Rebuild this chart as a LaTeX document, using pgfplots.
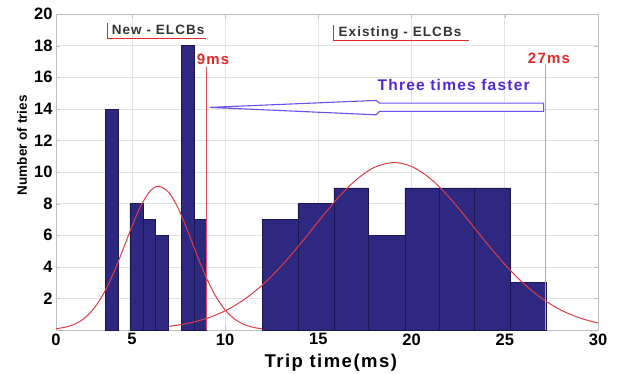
\documentclass[border=0pt]{standalone}
\usepackage{fontspec}
\setmainfont{Liberation Sans}
\newfontfamily\spaced[LetterSpace=8]{Liberation Sans}
\usepackage{pgfplots}
\pgfplotsset{compat=1.18}
\definecolor{navy}{RGB}{46,40,128}
\definecolor{navyedge}{RGB}{25,22,80}
\definecolor{curvered}{RGB}{225,60,70}
\definecolor{arrowblue}{RGB}{110,80,240}
\definecolor{textblue}{RGB}{80,40,220}
\definecolor{lav}{RGB}{165,155,255}
\definecolor{annred}{RGB}{230,40,40}
\begin{document}
\begin{tikzpicture}
\begin{axis}[at={(0,0)}, anchor=south west, scale only axis, width=542pt, height=316pt,
  xmin=0.93, xmax=30, ymin=0, ymax=20,
  xtick={0.93,5,10,15,20,25,30}, xticklabels={0,5,10,15,20,25,30},
  ytick={2,4,...,20},
  grid=major, grid style={gray!22, line width=0.6pt},
  axis line style={gray!50},
  tick style={gray!50},
  major tick length=4pt,
  tick label style={font=\fontsize{16.5}{19}\selectfont\bfseries},
  /pgf/number format/assume math mode=true,
  clip=false]
% New ELCB bars
\addplot[ybar interval, fill=navy, draw=navyedge, line width=0.5pt] coordinates {(3.55,14)(4.26,14)};
\addplot[ybar interval, fill=navy, draw=navyedge, line width=0.5pt] coordinates {(4.89,8)(5.60,7)(6.26,6)(6.96,6)};
\addplot[ybar interval, fill=navy, draw=navyedge, line width=0.5pt] coordinates {(7.66,18)(8.33,7)(9.01,7)};
% Existing ELCB bars
\addplot[ybar interval, fill=navy, draw=navyedge, line width=0.5pt] coordinates {(11.98,7)(13.90,8)(15.83,9)(17.69,6)(19.64,9)(21.50,9)(23.37,9)(25.30,3)(27.20,3)};
% fitted curves
\addplot[curvered, line width=1pt, smooth, no marks] coordinates {
(0.93,0.078)(1.5,0.198)(2,0.41)(2.5,0.79)(3,1.42)(3.5,2.34)(4,3.56)(4.5,5.02)(5,6.55)(5.5,7.90)(6,8.82)(6.45,9.1)(7,8.68)(7.5,7.66)(8,6.25)(8.5,4.72)(9,3.29)(9.5,2.13)(10,1.27)(10.5,0.70)(11,0.36)(11.5,0.17)(12,0.074)};
\addplot[curvered, line width=1pt, smooth, no marks] coordinates {
(7,0.23)(8,0.42)(9,0.73)(10,1.21)(11,1.91)(12,2.85)(13,4.03)(14,5.40)(15,6.87)(16,8.29)(17,9.48)(18,10.29)(19.05,10.6)(20,10.35)(21,9.59)(22,8.42)(23,7.01)(24,5.54)(25,4.15)(26,2.95)(27,1.99)(28,1.27)(29,0.77)(30,0.44)};
% vertical markers
\draw[annred!80, line width=0.6pt] (axis cs:9.01,0) -- (axis cs:9.01,16.64);
\draw[lav, line width=0.9pt] (axis cs:27.2,0) -- (axis cs:27.2,16.85);
% hollow arrow
\draw[arrowblue, line width=1.1pt, fill=white] (axis cs:9.175,14.09) -- (axis cs:18.1,14.53) -- (axis cs:18.28,14.36) -- (axis cs:27.08,14.36) -- (axis cs:27.08,13.84) -- (axis cs:18.28,13.84) -- (axis cs:18.1,13.62) -- cycle;
% texts
\node[font=\spaced\fontsize{15.5}{18}\selectfont\bfseries, text=textblue] at (axis cs:22.26,15.52) {Three times faster};
\node[font=\spaced\fontsize{15}{17}\selectfont\bfseries, text=annred] at (axis cs:9.35,17.16) {9ms};
\node[font=\spaced\fontsize{15}{17}\selectfont\bfseries, text=annred] at (axis cs:27.37,17.22) {27ms};
\draw[annred, line width=0.9pt] (axis cs:3.70,19.44) -- (axis cs:3.70,18.47) -- (axis cs:9.0,18.47);
\node[font=\spaced\fontsize{13.5}{15}\selectfont\bfseries, text=black!80] at (axis cs:6.41,18.98) {New - ELCBs};
\draw[annred, line width=0.9pt] (axis cs:15.83,19.29) -- (axis cs:15.83,18.35) -- (axis cs:23.1,18.35);
\node[font=\spaced\fontsize{13.5}{15}\selectfont\bfseries, text=black!80] at (axis cs:19.38,18.81) {Existing - ELCBs};
% axis labels
\node[font=\spaced\fontsize{18.5}{20}\selectfont\bfseries, anchor=base] at ([yshift=-37pt]rel axis cs:0.507,0) {Trip time(ms)};
\node[font=\fontsize{13.5}{15}\selectfont\bfseries, rotate=90, anchor=center] at ([xshift=-34pt]rel axis cs:0,0.585) {Number of tries};
\end{axis}
\pgfresetboundingbox
\useasboundingbox (-56pt,-43pt) rectangle (569pt,330pt);
\end{tikzpicture}
\end{document}
